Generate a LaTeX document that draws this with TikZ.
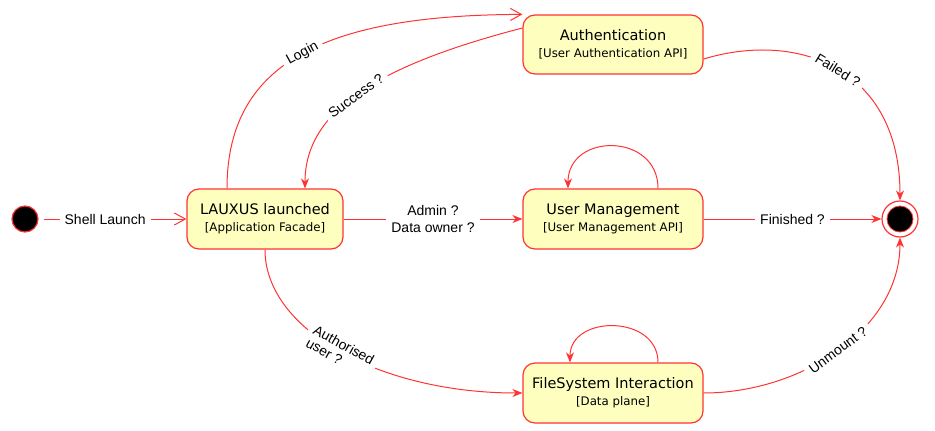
\documentclass[tikz,border=0pt]{standalone}
\usepackage{fontspec}
\setmainfont{Liberation Sans}
\newfontfamily\vfont{DejaVu Sans}
\usetikzlibrary{arrows.meta}
\definecolor{lred}{HTML}{FF3333}
\definecolor{lyel}{HTML}{FEFFBF}
\newcommand\st[2]{{\fontsize{14.5}{17}\selectfont #1}\\{\fontsize{11.8}{17}\selectfont [#2]}}
\begin{document}
\begin{tikzpicture}[x=1pt,y=-1pt,
  state/.style={draw=lred, fill=lyel, rounded corners=12pt, line width=1.2pt,
    minimum height=60pt, inner sep=0pt, align=center, font=\vfont\fontsize{11.8}{17}\selectfont},
  lbl/.style={fill=white, inner xsep=5pt, inner ysep=2pt, font=\fontsize{14}{17}\selectfont},
  conn/.style={draw=lred, line width=1pt},
  arr/.style={conn, -{Stealth[length=10pt,width=8pt]}},
  openarr/.style={conn, -{Straight Barb[length=11pt,width=12pt]}}
]
\useasboundingbox (0,0) rectangle (935,431);
% nodes
\node[circle, fill=black, draw=lred, line width=1.2pt, minimum size=26pt, inner sep=0pt] (S) at (25,219) {};
\node[state, minimum width=156pt] (L) at (265,219) {\st{LAUXUS launched}{Application Facade}};
\node[state, minimum width=180pt, minimum height=59pt] (A) at (613,44.5) {\st{Authentication}{User Authentication API}};
\node[state, minimum width=180pt] (U) at (613,219) {\st{User Management}{User Management API}};
\node[state, minimum width=180pt] (F) at (613,393) {\st{FileSystem Interaction}{Data plane}};
\node[circle, draw=lred, fill=white, line width=1.2pt, minimum size=36pt, inner sep=0pt] (E) at (900,219) {};
\node[circle, fill=black, draw=lred, line width=0.8pt, minimum size=26pt, inner sep=0pt] (Ei) at (900,219) {};
% connectors
\draw[openarr, shorten <=5pt] (S) -- node[lbl, pos=0.45]{Shell Launch} (L);
\draw[openarr] ([xshift=-38pt]L.north) .. controls (227,60) and (330,15) .. (A.north west)
  node[lbl, sloped, pos=0.5]{Login};
\draw[arr] ([yshift=16.5pt]A.west) .. controls (380,65) and (305,110) .. ([xshift=40pt]L.north)
  node[lbl, sloped, pos=0.52]{Success ?};
\draw[arr] ([yshift=-14.5pt]A.east) .. controls (800,30) and (900,70) .. (E.north)
  node[lbl, sloped, pos=0.5]{Failed ?};
\draw[arr] (L) -- node[lbl, align=center, font=\fontsize{14}{17}\selectfont]{Admin ?\\Data owner ?} (U);
\draw[arr] ([xshift=45pt]U.north) .. controls +(0,-56) and +(0,-56) .. ([xshift=-45pt]U.north);
\draw[arr] (U) -- node[lbl]{Finished ?} (E);
\draw[arr] (L.south) .. controls (265,330) and (380,393) .. (F.west)
  node[lbl, sloped, pos=0.5, align=left, font=\fontsize{14}{15}\selectfont]{Authorised\\user ?};
\draw[arr] ([xshift=45pt]F.north) .. controls +(0,-48) and +(0,-48) .. ([xshift=-43pt]F.north);
\draw[arr] (F.east) .. controls (800,393) and (900,330) .. (E.south)
  node[lbl, sloped, pos=0.5]{Unmount ?};
\end{tikzpicture}
\end{document}
